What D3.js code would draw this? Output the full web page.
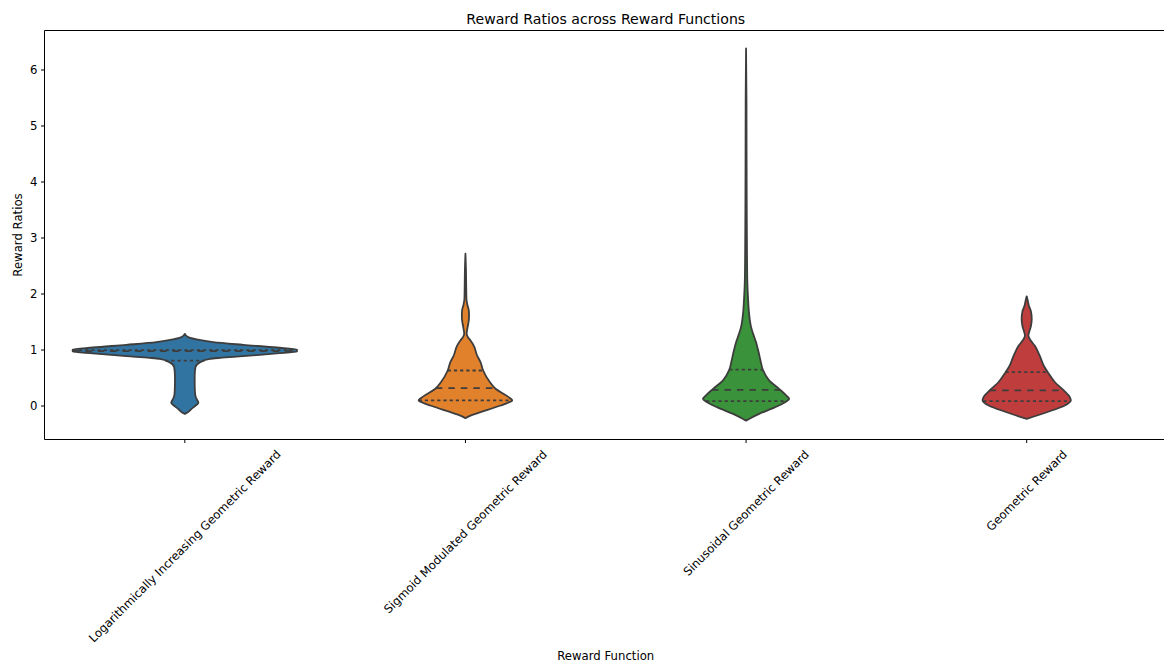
<!DOCTYPE html>
<html>
<head>
<meta charset="utf-8">
<script src="https://cdn.jsdelivr.net/npm/d3@7"></script>
<style>
  html, body { margin: 0; padding: 0; background: #fff; }
  svg { display: block; }
  text { font-family: "DejaVu Sans", sans-serif; fill: #000; }
</style>
</head>
<body>
<svg id="chart" width="1164" height="666"></svg>
<script>
// Reward functions compared on the x axis
const categories = [
  "Logarithmically Increasing Geometric Reward",
  "Sigmoid Modulated Geometric Reward",
  "Sinusoidal Geometric Reward",
  "Geometric Reward"
];

// Kernel density profiles: [reward ratio, relative density] (widest violin = 1)
const densityLog = [
  [-0.15, 0], [-0.12, 0.027], [-0.06, 0.06], [0.0, 0.097], [0.048, 0.121], [0.10, 0.11],
  [0.148, 0.098], [0.25, 0.09], [0.40, 0.088], [0.536, 0.088], [0.685, 0.095],
  [0.774, 0.138], [0.833, 0.223], [0.851, 0.313], [0.881, 0.518], [0.929, 0.819],
  [0.964, 0.997], [0.982, 1.0], [1.0, 0.997], [1.036, 0.819], [1.083, 0.521],
  [1.13, 0.253], [1.179, 0.104], [1.22, 0.03], [1.28, 0]
];
const densitySigmoid = [
  [-0.226, 0], [-0.18, 0.045], [-0.12, 0.134], [0.0, 0.313], [0.05, 0.38], [0.09, 0.417],
  [0.167, 0.372], [0.30, 0.268], [0.42, 0.217], [0.625, 0.158], [0.77, 0.135],
  [0.893, 0.104], [1.07, 0.074], [1.16, 0.045], [1.22, 0.022], [1.28, 0.011],
  [1.36, 0.016], [1.46, 0.025], [1.55, 0.031], [1.64, 0.032], [1.72, 0.028],
  [1.80, 0.017], [1.905, 0.009], [2.1, 0.007], [2.4, 0.005], [2.71, 0]
];
const densitySinusoidal = [
  [-0.27, 0], [-0.15, 0.116], [-0.03, 0.259], [0.05, 0.339], [0.12, 0.384], [0.18, 0.357],
  [0.28, 0.304], [0.45, 0.205], [0.64, 0.149], [0.80, 0.129], [0.95, 0.112],
  [1.13, 0.089], [1.28, 0.063], [1.40, 0.045], [1.64, 0.027], [1.9, 0.018],
  [2.23, 0.011], [2.8, 0.008], [3.5, 0.006], [4.5, 0.0045], [5.5, 0.0035], [6.375, 0]
];
const densityGeometric = [
  [-0.24, 0], [-0.12, 0.179], [0.0, 0.339], [0.09, 0.393], [0.15, 0.384], [0.27, 0.33],
  [0.42, 0.25], [0.595, 0.188], [0.71, 0.152], [0.89, 0.116], [1.07, 0.071],
  [1.16, 0.036], [1.25, 0.015], [1.31, 0.022], [1.42, 0.038], [1.55, 0.045],
  [1.68, 0.038], [1.79, 0.018], [1.88, 0.009], [1.95, 0]
];
const densities = [densityLog, densitySigmoid, densitySinusoidal, densityGeometric];

// Quartiles [Q1, median, Q3] of each distribution
const quartilesLog = [0.80, 0.972, 0.99];
const quartilesSigmoid = [0.09, 0.31, 0.625];
const quartilesSinusoidal = [0.077, 0.28, 0.64];
const quartilesGeometric = [0.08, 0.27, 0.595];
const quartiles = [quartilesLog, quartilesSigmoid, quartilesSinusoidal, quartilesGeometric];

const yTicks = [0, 1, 2, 3, 4, 5, 6];
const colors = ["#3274a1", "#e1812c", "#3a923a", "#c03d3e"];

const title = "Reward Ratios across Reward Functions";
const xTitle = "Reward Function";
const yTitle = "Reward Ratios";

// Layout
const margin = { left: 44.5, top: 30.5, right: 1167, bottom: 439.5 };
const svg = d3.select("#chart");
const gray = "#3d3d3d";
const fs = 11.7;

const x = d3.scaleBand().domain(categories).range([margin.left, margin.right]);
const y = d3.scaleLinear().domain([-0.607, 6.696]).range([margin.bottom, margin.top]);
const halfWidth = d3.scaleLinear().domain([0, 1]).range([0, x.bandwidth() * 0.4]);

// Violins
const plot = svg.append("g");
categories.forEach((cat, i) => {
  const cx = x(cat) + x.bandwidth() / 2;
  const prof = densities[i].slice().sort((a, b) => b[0] - a[0]);
  const area = d3.area()
    .y(d => y(d[0]))
    .x0(d => cx - halfWidth(d[1]))
    .x1(d => cx + halfWidth(d[1]))
    .curve(d3.curveMonotoneY);
  plot.append("path")
    .attr("d", area(prof))
    .attr("fill", colors[i])
    .attr("stroke", gray)
    .attr("stroke-width", 1.8)
    .attr("stroke-linejoin", "round");

  // density at a value, linear between profile points
  const asc = densities[i];
  const dens = v => {
    for (let k = 1; k < asc.length; k++) {
      if (v <= asc[k][0]) {
        const t = (v - asc[k - 1][0]) / (asc[k][0] - asc[k - 1][0]);
        return asc[k - 1][1] + t * (asc[k][1] - asc[k - 1][1]);
      }
    }
    return 0;
  };
  quartiles[i].forEach((q, k) => {
    const w = halfWidth(dens(q));
    plot.append("line")
      .attr("x1", cx - w).attr("x2", cx + w)
      .attr("y1", y(q)).attr("y2", y(q))
      .attr("stroke", gray)
      .attr("stroke-width", 1.8)
      .attr("stroke-dasharray", k === 1 ? "6.5,6" : "3.2,3");
  });
});

// Spines
const spines = svg.append("g").attr("stroke", "#000").attr("stroke-width", 1).attr("fill", "none");
spines.append("line").attr("x1", margin.left).attr("x2", margin.left).attr("y1", margin.top).attr("y2", margin.bottom);
spines.append("line").attr("x1", margin.left).attr("x2", margin.right).attr("y1", margin.bottom).attr("y2", margin.bottom);
spines.append("line").attr("x1", margin.left).attr("x2", margin.right).attr("y1", margin.top).attr("y2", margin.top);
spines.append("line").attr("x1", margin.right).attr("x2", margin.right).attr("y1", margin.top).attr("y2", margin.bottom);

// Y axis
const yAxis = d3.axisLeft(y).tickValues(yTicks).tickSize(3.5).tickPadding(3.5).tickFormat(d3.format("d"));
const gy = svg.append("g").attr("transform", `translate(${margin.left},0)`).call(yAxis);
gy.select(".domain").remove();
gy.selectAll("line").attr("stroke", "#000");
gy.selectAll("text").attr("fill", "#000").style("font-family", "DejaVu Sans").style("font-size", fs + "px");

// X axis with rotated labels
const xAxis = d3.axisBottom(x).tickSize(3.5).tickFormat("");
const gx = svg.append("g").attr("transform", `translate(0,${margin.bottom})`).call(xAxis);
gx.select(".domain").remove();
gx.selectAll("line").attr("stroke", "#000");

const labelTop = margin.bottom + 8;
categories.forEach(cat => {
  const t = svg.append("text")
    .attr("text-anchor", "middle")
    .attr("dominant-baseline", "central")
    .style("font-size", fs + "px")
    .text(cat);
  const L = t.node().getComputedTextLength();
  const side = (L + fs * 1.16) / Math.SQRT2;
  const cx = x(cat) + x.bandwidth() / 2;
  const cy = labelTop + side / 2;
  t.attr("transform", `translate(${cx},${cy}) rotate(-45)`);
});

// Titles
svg.append("text")
  .attr("x", (margin.left + margin.right) / 2).attr("y", 23.5)
  .attr("text-anchor", "middle")
  .style("font-size", "14.1px")
  .text(title);
svg.append("text")
  .attr("x", (margin.left + margin.right) / 2).attr("y", 659.5)
  .attr("text-anchor", "middle")
  .style("font-size", fs + "px")
  .text(xTitle);
svg.append("text")
  .attr("transform", `translate(21.5,${(margin.top + margin.bottom) / 2}) rotate(-90)`)
  .attr("text-anchor", "middle")
  .style("font-size", fs + "px")
  .text(yTitle);
</script>
</body>
</html>
